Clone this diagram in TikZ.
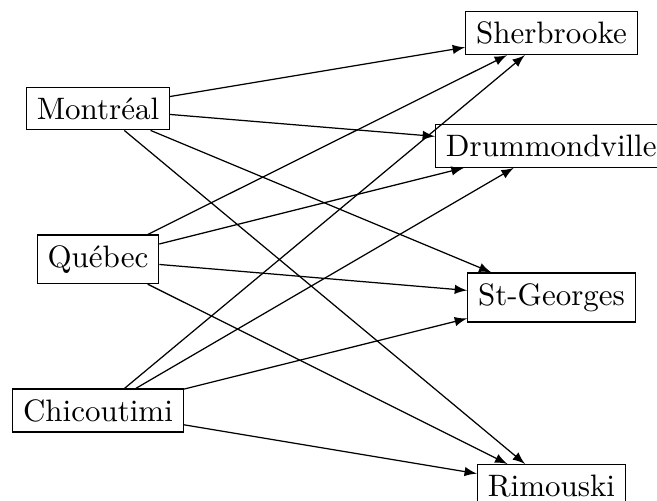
\documentclass[tikz,border=0pt]{standalone}
\usepackage{fontspec}
\begin{document}
\begin{tikzpicture}[x=0.3226pt,y=-0.3226pt,
  city/.style={draw,line width=0.4pt,inner sep=0.333em},
  link/.style={-latex,line width=0.4pt}]
\useasboundingbox (0,0) rectangle (657,501);
% origins
\node[city] (mtl) at (98,108.5) {Montréal};
\node[city] (qc)  at (98,259.3) {Québec};
\node[city] (chi) at (98,410.5) {Chicoutimi};
% destinations
\node[city] (sher) at (551.5,33)   {Sherbrooke};
\node[city] (drum) at (551.3,146)  {Drummondville};
\node[city] (stg)  at (551.5,297.5) {St-Georges};
\node[city] (rim)  at (551.5,486)  {Rimouski};
% every origin to every destination
\foreach \a in {mtl,qc,chi}
  \foreach \b in {sher,drum,stg,rim}
    \draw[link] (\a) -- (\b);
\end{tikzpicture}
\end{document}
